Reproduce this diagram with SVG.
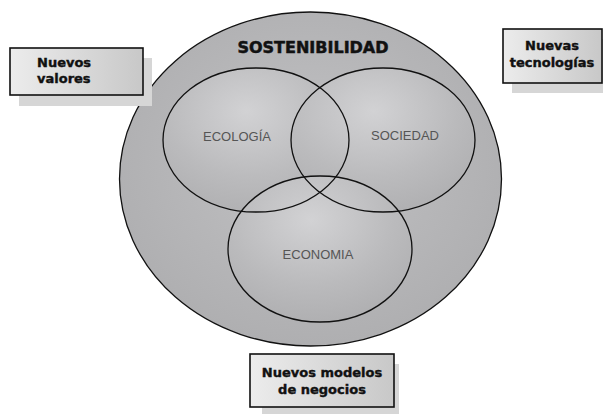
<svg xmlns="http://www.w3.org/2000/svg" width="603" height="414" viewBox="0 0 603 414">
<defs>
<radialGradient id="bigG" cx="0.5" cy="0.45" r="0.6">
<stop offset="0" stop-color="#c2c2c4"/>
<stop offset="1" stop-color="#adadaf"/>
</radialGradient>
<radialGradient id="inG" cx="0.45" cy="0.3" r="0.75">
<stop offset="0" stop-color="#d6d6d8"/>
<stop offset="0.6" stop-color="#bbbbbd"/>
<stop offset="1" stop-color="#adadaf"/>
</radialGradient>
<linearGradient id="boxG" x1="0" y1="0" x2="1" y2="0">
<stop offset="0" stop-color="#ececec"/>
<stop offset="1" stop-color="#c8c8c8"/>
</linearGradient>
</defs>
<style>
.out{fill:none;stroke:#111;stroke-width:1.3}
.lbl{font-family:"Liberation Sans",Arial,sans-serif;font-size:13px;fill:#555;text-anchor:middle}
.title{font-family:"DejaVu Sans",sans-serif;font-weight:bold;font-size:16px;fill:#111;stroke:#111;stroke-width:0.5;text-anchor:middle}
.bt{font-family:"DejaVu Sans",sans-serif;font-weight:bold;font-size:13px;fill:#111;stroke:#111;stroke-width:0.4}
.shadow{fill:#d6d6d6}
.box{fill:url(#boxG);stroke:#111;stroke-width:1.6}
</style>
<rect width="603" height="414" fill="#fff"/>
<g id="fills">
<ellipse cx="310.5" cy="179" rx="191" ry="167" fill="url(#bigG)"/>
<ellipse cx="256" cy="140" rx="93" ry="72" fill="url(#inG)" opacity="0.85"/>
<ellipse cx="383" cy="140" rx="92" ry="72" fill="url(#inG)" opacity="0.85"/>
<ellipse cx="320" cy="249" rx="92" ry="73" fill="url(#inG)" opacity="0.85"/>
</g>
<g id="sostenibilidad">
<ellipse class="out" cx="310.5" cy="179" rx="191" ry="167"/>
<text class="title" x="313" y="53">SOSTENIBILIDAD</text>
</g>
<g id="ecologia">
<ellipse class="out" cx="256" cy="140" rx="93" ry="72"/>
<text class="lbl" x="237" y="141">ECOLOGÍA</text>
</g>
<g id="sociedad">
<ellipse class="out" cx="383" cy="140" rx="92" ry="72"/>
<text class="lbl" x="405" y="140">SOCIEDAD</text>
</g>
<g id="economia">
<ellipse class="out" cx="320" cy="249" rx="92" ry="73"/>
<text class="lbl" x="318" y="259">ECONOMIA</text>
</g>
<g id="nuevos-valores">
<rect class="shadow" x="19" y="58" width="133" height="48"/>
<rect class="box" x="10" y="48" width="133" height="47"/>
<text class="bt" x="37" y="67">Nuevos</text>
<text class="bt" x="37" y="83">valores</text>
</g>
<g id="nuevas-tecnologias">
<rect class="shadow" x="512" y="39" width="95" height="54"/>
<rect class="box" x="503" y="29" width="99" height="54"/>
<text class="bt" x="552" y="50" text-anchor="middle">Nuevas</text>
<text class="bt" x="552" y="67" text-anchor="middle">tecnologías</text>
</g>
<g id="nuevos-modelos">
<rect class="shadow" x="262" y="364" width="137" height="50"/>
<rect class="box" x="250" y="354" width="144" height="53"/>
<text class="bt" x="322" y="377" text-anchor="middle">Nuevos modelos</text>
<text class="bt" x="322" y="394" text-anchor="middle">de negocios</text>
</g>
<g id="connectors"/>
</svg>
